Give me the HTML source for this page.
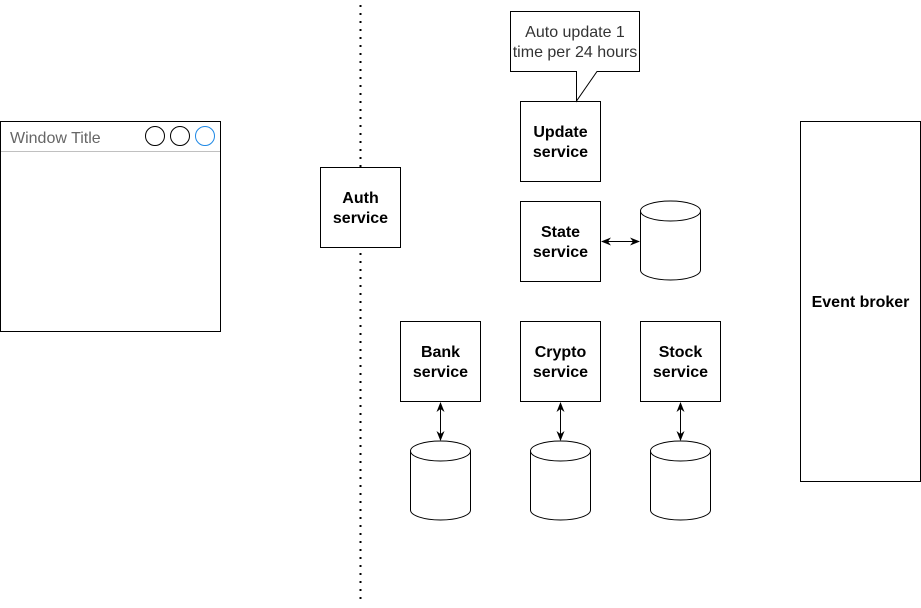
<!DOCTYPE html>
<html><head><style>body{margin:0;background:#fff}</style></head><body>
<svg width="921" height="603" xmlns="http://www.w3.org/2000/svg" font-family="Liberation Sans, Arial, sans-serif">
<defs><marker id="a" viewBox="0 0 10 10" refX="9" refY="5" markerWidth="10" markerHeight="10" markerUnits="userSpaceOnUse" orient="auto-start-reverse"><path d="M0,1 L10,5 L0,9 L3,5 z" fill="#000"/></marker></defs>
<rect x="0.5" y="121.5" width="220" height="210" fill="#fff" stroke="#000"/>
<line x1="1" y1="151.5" x2="220" y2="151.5" stroke="#c0c0c0"/>
<text x="10" y="143" font-size="16" fill="#666">Window Title</text>
<circle cx="155" cy="136" r="9.5" fill="none" stroke="#000"/>
<circle cx="180" cy="136" r="9.5" fill="none" stroke="#000"/>
<circle cx="205" cy="136" r="9.5" fill="none" stroke="#1e88e5"/>
<line x1="360.5" y1="5" x2="360.5" y2="603" stroke="#000" stroke-width="2" stroke-dasharray="2,6"/>
<g stroke="#000" fill="#fff">
<rect x="320.5" y="167.5" width="80" height="80"/>
<rect x="520.5" y="101.5" width="80" height="80"/>
<rect x="520.5" y="201.5" width="80" height="80"/>
<rect x="400.5" y="321.5" width="80" height="80"/>
<rect x="520.5" y="321.5" width="80" height="80"/>
<rect x="640.5" y="321.5" width="80" height="80"/>
<rect x="800.5" y="121.5" width="120" height="360"/>
<path d="M510.5,11.5 H639.5 V71.5 H597 L576.5,101 V71.5 H510.5 Z"/>
<path d="M640.5,211 V270 A30,10 0 0 0 700.5,270 V211 A30,10 0 0 0 640.5,211 Z M640.5,211 A30,10 0 0 0 700.5,211"/>
<path d="M410.5,451 V510 A30,10 0 0 0 470.5,510 V451 A30,10 0 0 0 410.5,451 Z M410.5,451 A30,10 0 0 0 470.5,451"/>
<path d="M530.5,451 V510 A30,10 0 0 0 590.5,510 V451 A30,10 0 0 0 530.5,451 Z M530.5,451 A30,10 0 0 0 590.5,451"/>
<path d="M650.5,451 V510 A30,10 0 0 0 710.5,510 V451 A30,10 0 0 0 650.5,451 Z M650.5,451 A30,10 0 0 0 710.5,451"/>
</g>
<g stroke="#000" marker-start="url(#a)" marker-end="url(#a)">
<line x1="602" y1="241.5" x2="639" y2="241.5"/>
<line x1="440.5" y1="403" x2="440.5" y2="440"/>
<line x1="560.5" y1="403" x2="560.5" y2="440"/>
<line x1="680.5" y1="403" x2="680.5" y2="440"/>
</g>
<g font-size="16" text-anchor="middle">
<text x="575" y="37" fill="#333">Auto update 1</text>
<text x="575" y="57" fill="#333">time per 24 hours</text>
</g>
<g font-size="16" font-weight="bold" text-anchor="middle">
<text x="360.5" y="203">Auth</text><text x="360.5" y="223">service</text>
<text x="560.5" y="137">Update</text><text x="560.5" y="157">service</text>
<text x="560.5" y="237">State</text><text x="560.5" y="257">service</text>
<text x="440.5" y="357">Bank</text><text x="440.5" y="377">service</text>
<text x="560.5" y="357">Crypto</text><text x="560.5" y="377">service</text>
<text x="680.5" y="357">Stock</text><text x="680.5" y="377">service</text>
<text x="860.5" y="307">Event broker</text>
</g>
</svg>
</body></html>
